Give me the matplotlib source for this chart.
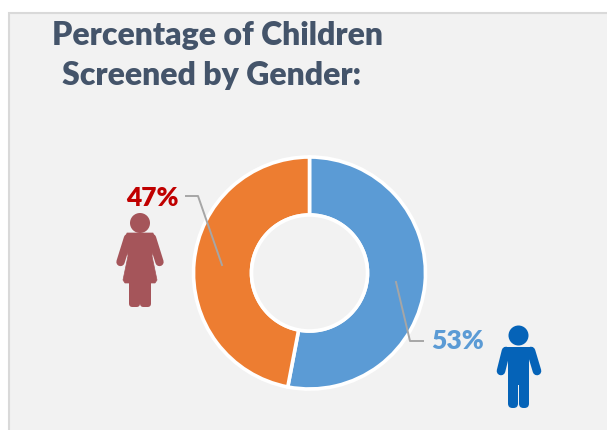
import matplotlib
matplotlib.use('Agg')
import matplotlib.pyplot as plt
from matplotlib.patches import Circle, FancyBboxPatch, Polygon, Rectangle

W, H = 607, 430

# data
labels = ['Male', 'Female']
values = [53, 47]
colors = ['#5B9BD5', '#ED7D31']
title_lines = ['Percentage of Children', 'Screened by Gender:']

plt.rcParams['font.family'] = ['Lato', 'DejaVu Sans']

fig = plt.figure(figsize=(W / 100, H / 100), dpi=100, facecolor='white')

# overlay in pixel coordinates for panel, text and icons
bg = fig.add_axes([0, 0, 1, 1])
bg.set_xlim(0, W)
bg.set_ylim(H, 0)
bg.axis('off')
bg.add_patch(Rectangle((8.5, 12.5), W, H, fc='#F2F2F2', ec='#D9D9D9', lw=1.5))

# donut
cx, cy, r = 309.5, 273, 116
ax = fig.add_axes([(cx - r) / W, 1 - (cy + r) / H, 2 * r / W, 2 * r / H])
ax.pie(values, colors=colors, startangle=90, counterclock=False, radius=1,
       wedgeprops=dict(width=0.5, edgecolor='white', linewidth=2.6))
ax.set_xlim(-1, 1)
ax.set_ylim(-1, 1)
ax.add_patch(Circle((0, 0), 0.5, fc='#F2F2F2', ec='white', lw=2.6, zorder=3))

top = fig.add_axes([0, 0, 1, 1])
top.set_xlim(0, W)
top.set_ylim(H, 0)
top.axis('off')

title_col = '#44546A'
top.text(217, 36, title_lines[0], color=title_col, fontsize=23, fontweight='heavy',
         ha='center', va='center')
top.text(212, 75, title_lines[1], color=title_col, fontsize=23, fontweight='heavy',
         ha='center', va='center')

top.text(152, 198, '%d%%' % values[1], color='#C00000', fontsize=19, fontweight='heavy',
         ha='center', va='center')
top.text(458, 341, '%d%%' % values[0], color=colors[0], fontsize=19, fontweight='heavy',
         ha='center', va='center')

# leader lines
top.plot([186, 198, 222], [196, 196, 265], color='#A6A6A6', lw=1.4)
top.plot([396, 410, 423], [282, 341, 341], color='#A6A6A6', lw=1.4)


def rbox(x0, y0, x1, y1, rad, col):
    top.add_patch(FancyBboxPatch((x0 + rad, y0 + rad), x1 - x0 - 2 * rad, y1 - y0 - 2 * rad,
                                 boxstyle='round,pad=%g,rounding_size=%g' % (rad, rad),
                                 fc=col, ec='none'))


def limb(pts, col, width):
    top.plot(*zip(*pts), color=col, lw=width, solid_capstyle='round', solid_joinstyle='round')


# female icon
fc = '#A5555A'
top.add_patch(Circle((140, 223), 10, fc=fc, ec='none'))
top.add_patch(Polygon([(127, 233), (153, 233), (155, 240), (152, 256), (157, 280), (155, 283),
                       (125, 283), (123, 280), (128, 256), (125, 240)],
                      closed=True, fc=fc, ec=fc, lw=0.5, joinstyle='round'))
limb([(128, 238), (120.5, 262)], fc, 6)
limb([(152, 238), (159.5, 262)], fc, 6)
rbox(129, 278, 140, 307, 3.5, fc)
rbox(140, 278, 151, 307, 3.5, fc)

# male icon
mc = '#0563B8'
top.add_patch(Circle((518.5, 335.5), 10, fc=mc, ec='none'))
rbox(503, 347, 534, 358, 3, mc)
rbox(508, 350, 529, 385, 2, mc)
limb([(506, 351), (501, 371)], mc, 6.2)
limb([(531, 351), (537, 371)], mc, 6.2)
rbox(508, 375, 518, 408, 4.5, mc)
rbox(519, 375, 529, 408, 4.5, mc)

fig.savefig('out.png', dpi=100, facecolor='white')
